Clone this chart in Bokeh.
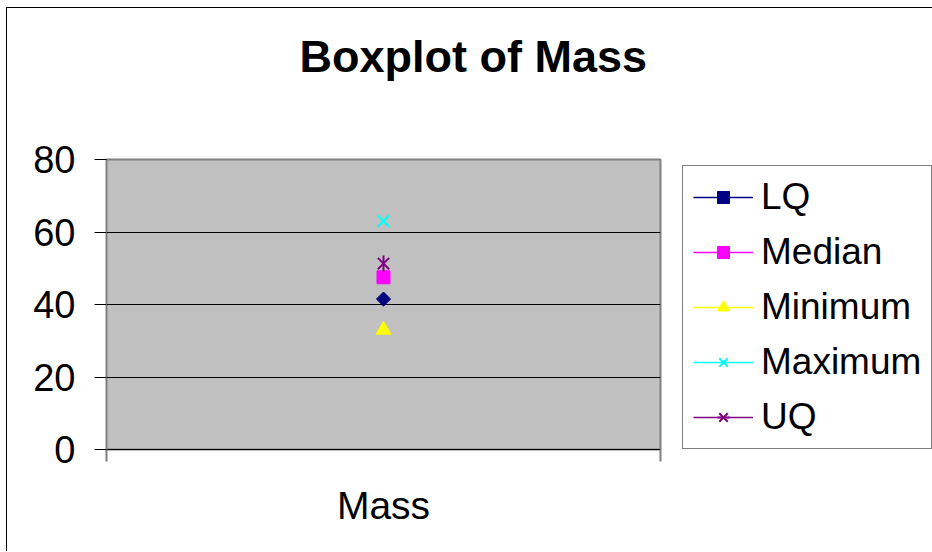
import math
from bokeh.plotting import figure
from bokeh.models import Range1d, FixedTicker, Legend, LegendItem, Title
from bokeh.embed import file_html
from bokeh.resources import INLINE

# ---- data ----
categories = ["Mass"]
lq = [41.5]
median = [47.5]
minimum = [33.0]
maximum = [63.0]
uq = [51.3]
y_ticks = [0, 20, 40, 60, 80]

xs = [i + 0.5 for i in range(len(categories))]
bounds = list(range(len(categories) + 1))

FONT = "Liberation Sans"

p = figure(frame_width=554, frame_height=290, output_backend="svg", toolbar_location=None,
           x_range=Range1d(0, len(categories)), y_range=Range1d(y_ticks[0], y_ticks[-1]),
           min_border_left=99, min_border_right=271, min_border_top=151, min_border_bottom=102)
p.styles = {"border-left": "1px solid #000000", "border-top": "1px solid #000000",
            "margin-left": "6px", "margin-top": "7px"}

p.background_fill_color = "#C0C0C0"
p.border_fill_color = "#FFFFFF"
p.outline_line_color = "#808080"
p.outline_line_width = 2

p.title = None
spacer = Title(text=" ", text_font_size="1px", standoff=75)
p.add_layout(spacer, "above")
main_title = Title(text="Boxplot of Mass", text_font=FONT, text_font_size="45px",
                   text_font_style="bold", text_color="#000000", align="left",
                   offset=193, standoff=0)
p.add_layout(main_title, "above")

# x axis
xa = p.xaxis[0]
xa.ticker = FixedTicker(ticks=xs, minor_ticks=bounds)
xa.major_label_overrides = {x: c for x, c in zip(xs, categories)}
xa.major_tick_line_color = None
xa.major_tick_out = 12
xa.major_tick_in = 0
xa.minor_tick_out = 12
xa.minor_tick_in = 0
xa.minor_tick_line_color = "#808080"
xa.minor_tick_line_width = 2
xa.axis_line_color = "#000000"
xa.major_label_text_font = FONT
xa.major_label_text_font_size = "39px"
xa.major_label_text_color = "#000000"
xa.major_label_standoff = 22

# y axis
ya = p.yaxis[0]
ya.ticker = FixedTicker(ticks=y_ticks)
ya.major_tick_out = 12
ya.major_tick_in = 0
ya.major_tick_line_color = "#000000"
ya.minor_tick_line_color = None
ya.axis_line_color = "#808080"
ya.major_label_text_font = FONT
ya.major_label_text_font_size = "38px"
ya.major_label_text_color = "#000000"
ya.major_label_standoff = 19

p.xgrid.visible = False
p.ygrid.ticker = FixedTicker(ticks=y_ticks[:-1])
p.ygrid.grid_line_color = "#000000"
p.ygrid.grid_line_width = 1

series = [
    ("LQ", lq, "#000080", "square", 10, math.pi / 4),
    ("Median", median, "#FF00FF", "square", 13, 0.0),
    ("Minimum", minimum, "#FFFF00", "triangle", 15, 0.0),
    ("Maximum", maximum, "#00FFFF", "x", 16, 0.0),
    ("UQ", uq, "#800080", "x", 16, 0.0),
]

items = []
for name, vals, col, mk, sz, ang in series:
    lr = p.line(xs, vals, line_color=col, line_width=1.5)
    rs = [lr]
    if mk == "x":
        sr = p.scatter(xs, vals, marker=mk, size=sz, line_color=col, line_width=2)
        rs.append(sr)
        if name == "UQ":
            vr = p.scatter(xs, vals, marker="dash", size=sz, angle=math.pi / 2,
                           line_color=col, line_width=2)
            rs.append(vr)
    else:
        sr = p.scatter(xs, vals, marker=mk, size=sz, angle=ang, fill_color=col, line_color=col)
        rs.append(sr)
    items.append(LegendItem(label=name, renderers=rs))

legend = Legend(items=items, location=(22, 0))
legend.label_text_font = FONT
legend.label_text_font_size = "37px"
legend.label_text_color = "#000000"
legend.glyph_width = 60
legend.glyph_height = 30
legend.label_height = 30
legend.label_standoff = 8
legend.spacing = 13
legend.padding = 10
legend.margin = 0
legend.border_line_color = "#000000"
legend.border_line_width = 1
legend.background_fill_color = "#FFFFFF"
legend.background_fill_alpha = 1.0
p.add_layout(legend, "right")

open("out.html", "w").write(file_html(p, INLINE))
